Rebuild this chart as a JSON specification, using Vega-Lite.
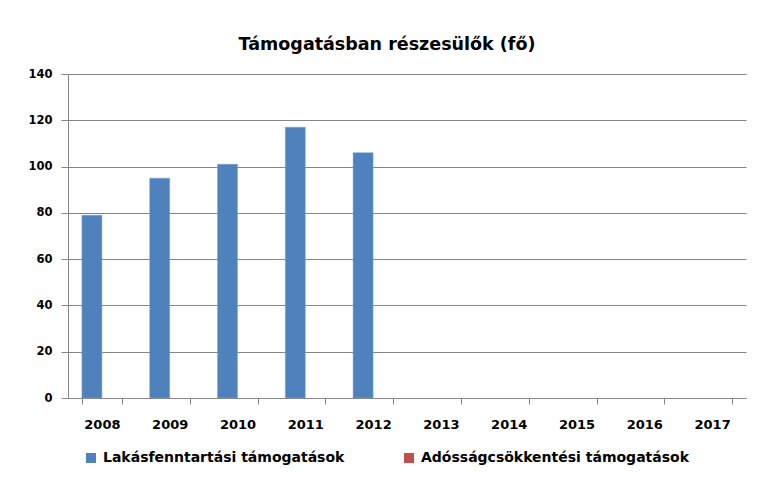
{
  "$schema": "https://vega.github.io/schema/vega-lite/v6.json",
  "width": 678,
  "height": 324,
  "autosize": {"type": "none"},
  "padding": {"left": 68, "top": 74, "right": 11, "bottom": 79},
  "background": "white",
  "title": {
    "text": "Támogatásban részesülők (fő)",
    "font": "DejaVu Sans",
    "fontSize": 17.5,
    "fontWeight": "bold",
    "color": "black",
    "anchor": "middle",
    "offset": 15,
    "dx": -20
  },
  "data": {
    "values": [
      {"year": "2008", "series": "Lakásfenntartási támogatások", "value": 79},
      {"year": "2009", "series": "Lakásfenntartási támogatások", "value": 95},
      {"year": "2010", "series": "Lakásfenntartási támogatások", "value": 101},
      {"year": "2011", "series": "Lakásfenntartási támogatások", "value": 117},
      {"year": "2012", "series": "Lakásfenntartási támogatások", "value": 106}
    ]
  },
  "mark": {"type": "bar", "stroke": "#7fa2d3", "strokeWidth": 0.5},
  "encoding": {
    "x": {
      "field": "year",
      "type": "nominal",
      "scale": {
        "domain": ["2008", "2009", "2010", "2011", "2012", "2013", "2014", "2015", "2016", "2017"],
        "paddingInner": 0.41,
        "paddingOuter": 0.205
      },
      "axis": {
        "title": null,
        "labelAngle": 0,
        "labelFont": "DejaVu Sans",
        "labelFontSize": 13,
        "labelFontWeight": "bold",
        "labelColor": "black",
        "labelPadding": 14,
        "tickBand": "extent",
        "tickSize": 6,
        "tickColor": "#868686",
        "domainColor": "#868686",
        "grid": false
      }
    },
    "xOffset": {
      "field": "series",
      "type": "nominal",
      "scale": {"domain": ["Lakásfenntartási támogatások", "Adósságcsökkentési támogatások"], "paddingInner": 0, "paddingOuter": 0}
    },
    "y": {
      "field": "value",
      "type": "quantitative",
      "scale": {"domain": [0, 140], "nice": false},
      "axis": {
        "title": null,
        "values": [0, 20, 40, 60, 80, 100, 120, 140],
        "labelFont": "DejaVu Sans",
        "labelFontSize": 11.5,
        "labelFontWeight": "bold",
        "labelColor": "black",
        "labelPadding": 9,
        "tickSize": 7,
        "tickColor": "#868686",
        "domainColor": "#868686",
        "gridColor": "#868686",
        "gridOpacity": 1
      }
    },
    "color": {
      "field": "series",
      "type": "nominal",
      "scale": {
        "domain": ["Lakásfenntartási támogatások", "Adósságcsökkentési támogatások"],
        "range": ["#4F81BD", "#C0504D"]
      },
      "legend": {
        "title": null,
        "orient": "none",
        "legendX": 16,
        "legendY": 377,
        "direction": "horizontal",
        "columns": 2,
        "columnPadding": 57,
        "symbolType": "square",
        "symbolSize": 100,
        "symbolStrokeWidth": 0,
        "symbolOffset": 0,
        "labelOffset": 5,
        "labelLimit": 0,
        "labelFont": "DejaVu Sans",
        "labelFontSize": 14,
        "labelFontWeight": "bold",
        "labelColor": "black"
      }
    }
  },
  "config": {"view": {"stroke": null}}
}
